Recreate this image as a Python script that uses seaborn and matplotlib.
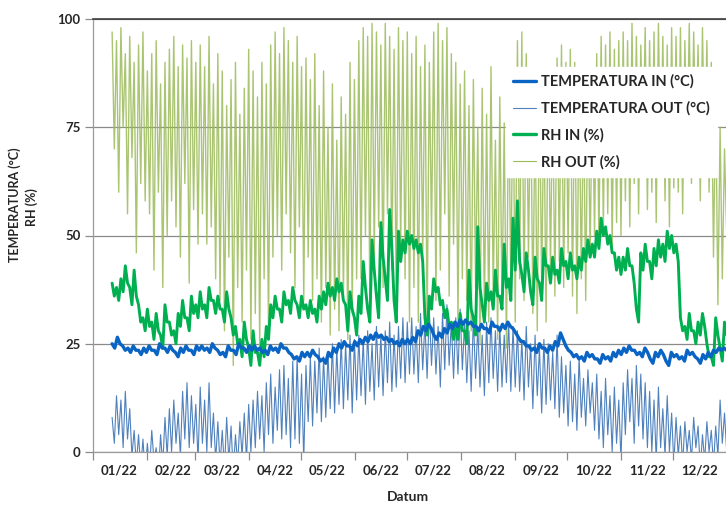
import pandas as pd
import seaborn as sns
import matplotlib.pyplot as plt
import matplotlib.dates as mdates
from matplotlib.lines import Line2D

# values, 12 Jan - 31 Dec 2022, spread evenly in time
# (one row per month; values alternate between daily high and low)
temp_in = [25, 24, 26.5, 25, 24.5, 23.5, 24, 23, 24.5, 23.5, 23.5, 22.5, 24, 23,
           24.5, 23.5, 23.5, 22.5, 25, 24, 24, 23, 24.5, 23.5, 23, 22, 24, 23, 24.5, 23.5, 23.5, 22.5, 24.5, 23.5,
           24.5, 23.5, 24, 23, 25, 24, 23.5, 22.5, 23, 22, 24.5, 23.5, 23.5, 22.5, 25, 24, 24, 23, 24.5, 23.5,
           24.5, 23.5, 24, 23, 23.5, 22.5, 24.5, 23.5, 24, 23, 25, 24, 24, 23, 22.5, 21.5, 22, 21, 23, 22,
           23, 22, 23.5, 22.5, 22, 21, 21.5, 20.5, 23, 22, 24, 23, 25, 24, 25.5, 24.5, 24.5, 23.5, 25.5, 24.5,
           26, 25, 26.5, 25.5, 27, 26, 27.5, 26.5, 27, 26, 26.5, 25.5, 26, 25, 25.5, 24.5, 26, 25, 26, 25,
           26.5, 25.5, 28, 27, 29, 28, 29.5, 28.5, 27, 26, 27.5, 26.5, 28.5, 27.5, 29.5, 28.5, 30, 29, 30.5, 29.5,
           30.5, 29.5, 30, 29, 29, 28, 29.5, 28.5, 28.5, 27.5, 30, 29, 29, 28, 29.5, 28.5, 30, 29, 28.5, 27.5,
           26.5, 25.5, 25.5, 24.5, 24.5, 23.5, 24, 23, 25, 24, 24, 23, 24.5, 23.5, 25.5, 24.5, 27.5, 26, 24.5, 23.5,
           23, 22, 22.5, 21.5, 22, 21, 23, 22, 22.5, 21.5, 21.5, 20.5, 22.5, 21.5, 22, 21, 23, 22, 23.5, 22.5,
           24, 23, 24.5, 23.5, 23.5, 22.5, 23, 22, 24, 23, 21.5, 20.5, 23, 22, 23.5, 22.5, 21, 20, 23, 22,
           22.5, 21.5, 22, 21, 23.5, 22.5, 23, 22, 21.5, 20.5, 22.5, 21.5, 23, 22, 23.5, 23, 24, 23.5, 24, 23.5]

temp_out = [8, 2, 13, 4, 12, 1, 14, 3, 10, -1, 5, -3, 4, -4, 3, -5,
            2, -4, 5, -2, 1, -6, 4, -3, 8, -1, 10, 0, 12, 2, 9, -1, 14, 3, 16, 1, 13, 2, 11, -2,
            15, 2, 12, 0, 16, 1, 9, -2, 7, -3, 5, -4, 8, -2, 6, -5, 4, -3, 7, -1, 9, -2, 11, 0,
            12, 1, 14, 3, 13, 0, 16, 4, 18, 2, 15, 5, 19, 3, 20, 4, 17, 1, 21, 3, 22, 2, 18, -2,
            20, 7, 22, 6, 21, 9, 24, 7, 22, 8, 23, 10, 25, 9, 24, 11, 26, 10, 25, 12, 27, 9, 26, 12,
            27, 13, 26, 11, 28, 14, 25, 12, 29, 15, 27, 13, 28, 16, 30, 14, 27, 15, 29, 17, 31, 16, 30, 18,
            31, 18, 29, 16, 32, 19, 30, 17, 33, 20, 31, 18, 29, 15, 32, 19, 34, 20, 30, 17, 31, 18, 33, 19,
            30, 16, 28, 14, 31, 17, 29, 15, 27, 13, 30, 16, 31, 17, 28, 14, 29, 15, 27, 16, 30, 14, 29, 15,
            28, 14, 26, 12, 29, 15, 25, 10, 27, 13, 24, 9, 26, 11, 25, 12, 23, 10, 27, 8, 22, 9, 20, 6,
            21, 7, 18, 5, 22, 8, 17, 6, 19, 9, 16, 5, 18, 3, 14, 1, 17, 4, 13, 0, 15, 2, 12, -2,
            16, 4, 19, 7, 17, 2, 20, 6, 18, 3, 16, 1, 14, 0, 12, -2, 15, 1, 10, -1, 13, 0, 9, -3,
            8, -1, 6, -3, 7, 0, 5, -2, 8, 1, 6, -4, 4, -2, 7, 0, 5, -3, 6, -1, 12, 2, 9, 0]

rh_in = [39, 36, 38, 35, 40, 37, 43, 39, 38, 34, 42, 36, 34, 30, 31, 28,
         33, 29, 30, 26, 32, 28, 27, 24, 34, 30, 30, 27, 28, 25, 32, 29, 35, 31, 31, 28, 36, 32, 34, 31,
         37, 33, 34, 31, 38, 35, 35, 32, 36, 33, 33, 30, 37, 33, 31, 27, 29, 25, 26, 22, 30, 26, 24, 20,
         28, 23, 23, 20, 26, 22, 29, 26, 34, 31, 36, 33, 33, 30, 37, 34, 35, 32, 38, 35, 34, 31, 36, 33,
         34, 31, 35, 32, 33, 30, 36, 33, 37, 34, 39, 36, 38, 35, 40, 37, 39, 35, 34, 28, 37, 33, 31, 27,
         36, 32, 44, 38, 33, 30, 49, 42, 36, 31, 53, 45, 40, 35, 56, 47, 35, 30, 51, 44, 49, 46, 51, 48,
         50, 47, 49, 46, 48, 44, 31, 27, 36, 33, 40, 37, 38, 34, 35, 31, 33, 29, 30, 26, 29, 26, 32, 28,
         28, 25, 42, 33, 31, 27, 52, 38, 34, 30, 39, 35, 37, 33, 42, 36, 36, 33, 48, 38, 40, 35, 54, 42,
         58, 44, 41, 37, 46, 42, 37, 34, 45, 40, 39, 35, 47, 43, 43, 39, 45, 41, 42, 39, 47, 43, 44, 40,
         46, 42, 43, 40, 45, 42, 47, 44, 49, 45, 48, 45, 51, 47, 54, 50, 52, 48, 50, 46, 46, 42, 45, 41,
         45, 42, 47, 43, 43, 39, 33, 30, 46, 42, 48, 44, 44, 40, 47, 43, 49, 45, 48, 44, 51, 47, 50, 46,
         48, 44, 31, 28, 29, 26, 32, 28, 28, 25, 30, 27, 32, 29, 25, 22, 22, 20, 31, 27, 24, 21, 30, 27]

rh_out = [97, 70, 95, 60, 98, 75, 92, 55, 96, 68, 90, 46, 94, 62, 97, 58,
          88, 55, 92, 42, 95, 60, 85, 38, 90, 50, 93, 58, 96, 52, 89, 45, 94, 62, 91, 39, 95, 56, 90, 48,
          94, 55, 89, 48, 96, 52, 85, 40, 92, 35, 88, 28, 80, 45, 86, 20, 90, 38, 78, 30, 84, 42, 93, 26,
          88, 32, 82, 24, 90, 40, 85, 28, 94, 45, 97, 50, 92, 42, 98, 55, 95, 46, 90, 38, 96, 52, 89, 35,
          91, 45, 86, 35, 92, 40, 80, 30, 88, 38, 75, 27, 85, 33, 72, 28, 82, 36, 78, 26, 90, 32, 86, 40,
          95, 40, 98, 50, 96, 35, 99, 45, 97, 52, 94, 38, 99, 55, 96, 42, 93, 33, 98, 48, 95, 40, 97, 30,
          92, 38, 96, 30, 89, 45, 94, 28, 90, 50, 97, 35, 99, 42, 95, 55, 98, 36, 92, 48, 90, 30, 85, 40,
          88, 35, 80, 28, 86, 38, 75, 25, 84, 32, 78, 30, 89, 36, 72, 26, 82, 34, 76, 24, 85, 38, 88, 30,
          95, 40, 97, 35, 92, 45, 85, 32, 80, 28, 86, 38, 82, 30, 88, 42, 84, 36, 91, 44, 94, 38, 90, 46,
          93, 36, 90, 32, 85, 40, 82, 35, 87, 45, 86, 50, 92, 48, 96, 52, 94, 55, 97, 47, 93, 53, 95, 50,
          97, 58, 95, 52, 99, 62, 96, 55, 94, 70, 98, 56, 95, 60, 97, 53, 99, 65, 96, 58, 94, 52, 98, 61,
          96, 60, 98, 55, 95, 68, 99, 62, 97, 72, 94, 58, 98, 66, 95, 60, 90, 45, 82, 34, 75, 40, 70, 50]

labels = ['TEMPERATURA IN (°C)', 'TEMPERATURA OUT (°C)', 'RH IN (%)', 'RH OUT (%)']
colors = ['#0A64C3', '#4F81BD', '#00B050', '#9BBB59']
widths = [2.4, 0.8, 2.1, 1.0]


def timeline(vals):
    return pd.date_range('2022-01-12', '2022-12-31 20:00', periods=len(vals))


sns.set_style('white')
plt.rcParams['font.family'] = ['Lato', 'DejaVu Sans']
plt.rcParams['font.weight'] = 'bold'

fig = plt.figure(figsize=(7.26, 5.09), dpi=100)
ax = fig.add_axes([93 / 726, 1 - 452 / 509, 634 / 726, 433 / 509])

# drawing order: outdoor RH behind, indoor temperature on top
series = [temp_in, temp_out, rh_in, rh_out]
for i in [3, 1, 2, 0]:
    sns.lineplot(x=timeline(series[i]), y=series[i], ax=ax, color=colors[i],
                 linewidth=widths[i], estimator=None, legend=False,
                 alpha=0.85 if i == 3 else 1)

ax.set_xlim(pd.Timestamp('2022-01-01'), pd.Timestamp('2023-01-01'))
ax.set_ylim(0, 100)
ax.set_yticks([0, 25, 50, 75, 100])
ax.yaxis.grid(True, color='#8a8a8a', lw=0.9)
ax.set_axisbelow(True)

ax.xaxis.set_major_locator(mdates.MonthLocator())
ax.xaxis.set_major_formatter(plt.NullFormatter())
ax.xaxis.set_minor_locator(mdates.MonthLocator(bymonthday=16))
ax.xaxis.set_minor_formatter(mdates.DateFormatter('%m/%y'))
ax.tick_params(axis='x', which='major', length=6, width=0.9, color='#8a8a8a', direction='out', bottom=True)
ax.tick_params(axis='x', which='minor', length=0, pad=9, labelsize=9.5)
ax.tick_params(axis='y', length=6, width=0.9, color='#8a8a8a', direction='out', left=True, pad=3, labelsize=9.5)

for side in ['left', 'bottom']:
    ax.spines[side].set_color('#9a9a9a')
    ax.spines[side].set_linewidth(0.9)
ax.spines['top'].set_color('#3c3c3c')
ax.spines['top'].set_linewidth(1.2)
ax.spines['right'].set_visible(False)

ax.set_xlabel('')
fig.text(408 / 726, 1 - 497 / 509, 'Datum', ha='center', va='center', fontsize=10, fontweight='bold')
fig.text(15 / 726, 1 - 205 / 509, 'TEMPERATURA (°C)', rotation=90, ha='center', va='center',
         fontsize=9, fontweight='bold')
fig.text(32 / 726, 1 - 207 / 509, 'RH (%)', rotation=90, ha='center', va='center',
         fontsize=9, fontweight='bold')

handles = [Line2D([], [], color=c, lw=w) for c, w in zip(colors, [2.4, 0.8, 2.4, 0.8])]
leg = ax.legend(handles, labels, loc='upper left', bbox_to_anchor=(0.651, 0.889),
                frameon=True, fancybox=False, framealpha=1, edgecolor='white',
                prop={'weight': 'bold', 'size': 10.5}, labelspacing=0.85, handlelength=1.6,
                handletextpad=0.3, borderpad=0.5, borderaxespad=0)

fig.savefig('out.png', dpi=100)
